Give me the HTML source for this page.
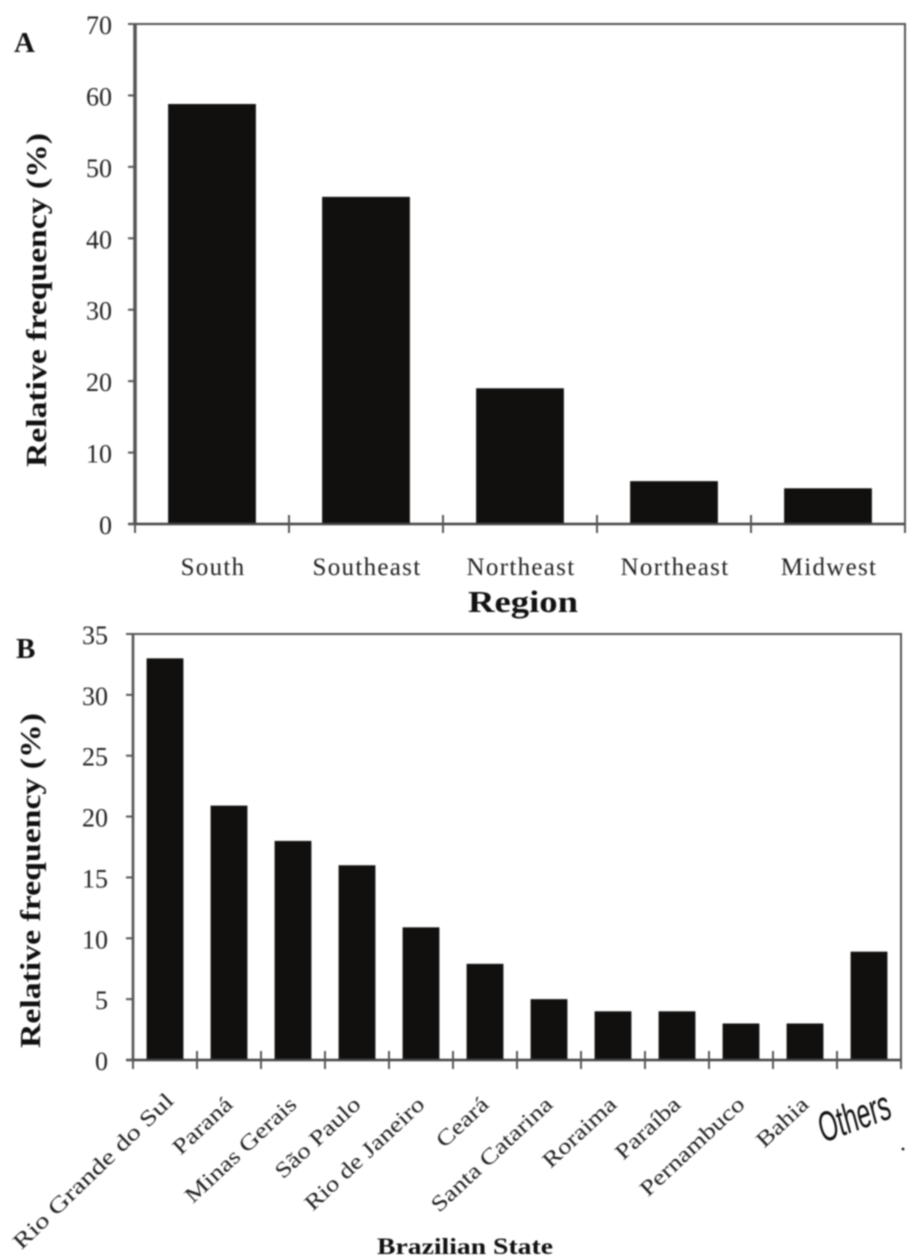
<!DOCTYPE html>
<html><head><meta charset="utf-8">
<style>
html,body{margin:0;padding:0;background:#fff;}
svg{display:block;filter:blur(0.8px);}
text{font-family:"Liberation Serif",serif;fill:#222;}
.b{font-weight:bold;fill:#111;}
</style></head>
<body>
<svg id="fig" xmlns="http://www.w3.org/2000/svg" width="924" height="1260" viewBox="0 0 924 1260"></svg>
<script>
const regionCategories = ['South','Southeast','Northeast','Northeast','Midwest'];
const regionValues = [58.8,45.8,19,6,5];
const regionTicks = [0,10,20,30,40,50,60,70];
const stateCategories = ['Rio Grande do Sul','Paraná','Minas Gerais','São Paulo','Rio de Janeiro','Ceará','Santa Catarina','Roraima','Paraíba','Pernambuco','Bahia','Others'];
const stateValues = [33,20.9,18,16,10.9,7.9,5,4,4,3,3,8.9];
const stateTicks = [0,5,10,15,20,25,30,35];

const svg = document.getElementById('fig');
const NS = 'http://www.w3.org/2000/svg';
function make(tag, attrs, parent, txt){
  const e = document.createElementNS(NS, tag);
  for (const k in attrs) e.setAttribute(k, attrs[k]);
  if (txt !== undefined) e.textContent = txt;
  (parent || svg).appendChild(e);
  return e;
}
function drawPanel(p){
  const g = make('g', {});
  
  
  const maxT = p.ticks[p.ticks.length-1];
  const yS = v => p.bottom - v/maxT*(p.bottom-p.top);
  const band = (p.right-p.left)/p.cats.length;
  const xS = i => p.left + band*i;
  // bars
  p.vals.forEach((v,i)=>{
    const w = band*p.barFrac;
    const bar = make('rect',{x:xS(i)+(band-w)/2,y:yS(v),width:w,height:p.bottom-yS(v),fill:'#11100e'},g);
    
    
  });
  // plot frame
  const frame = make('path',{d:`M${p.left} ${p.bottom}V${p.top}H${p.right}V${p.bottom}`,fill:'none',stroke:'#555',"stroke-width":2},g);
  
  
  const yAxis = make('line',{x1:p.left,x2:p.left,y1:p.top,y2:p.bottom,stroke:'#555',"stroke-width":p.leftW},g);
  
  
  const xAxis = make('line',{x1:p.left-7,x2:p.right,y1:p.bottom,y2:p.bottom,stroke:'#444',"stroke-width":2.4},g);
  
  
  const topExt = make('line',{x1:p.left-7,x2:p.left,y1:p.top,y2:p.top,stroke:'#555',"stroke-width":2},g);
  
  
  // y ticks
  p.ticks.forEach(t=>{
    const y = yS(t);
    const tk = make('line',{x1:p.left-7,x2:p.left,y1:y,y2:y,stroke:'#555',"stroke-width":2},g);
    
    
    const lb = make('text',{x:p.left-p.labGap,y:y+10,"text-anchor":'end',"font-size":26},g,String(t));
    
    
  });
  // x ticks
  for (let i=0;i<=p.cats.length;i++){
    const tk = make('line',{x1:xS(i),x2:xS(i),y1:p.bottom-9,y2:p.bottom+9,stroke:'#555',"stroke-width":2},g);
    
    
  }
  return {g,xS,band};
}

const a = drawPanel({name:'panel-a',cats:regionCategories,vals:regionValues,ticks:regionTicks,left:135,right:905,top:24,bottom:524,barFrac:0.57,leftW:3.5,labGap:23,labNudge:0});
regionCategories.forEach((c,i)=>{
  const t = make('text',{x:a.xS(i)+a.band/2+1,y:575,"text-anchor":'middle',"font-size":25,"letter-spacing":1.3},a.g,c);
  
  
});
const b = drawPanel({name:'panel-b',cats:stateCategories,vals:stateValues,ticks:stateTicks,left:133,right:901,top:634,bottom:1060,barFrac:0.575,leftW:2.6,labGap:25,labNudge:0});
stateCategories.forEach((c,i)=>{
  if (c === 'Others') return;
  const ax = b.xS(i)+b.band/2+5, ay = 1106;
  const tf = i===0
    ? `translate(${ax+5},${ay-4}) rotate(-44) scale(1.3,1)`
    : `translate(${ax},${ay}) rotate(-43) scale(1.22,1)`;
  const t = make('text',{transform:tf,"text-anchor":'end',"font-size":22,x:0,y:0},b.g,c);
  
  
});
</script>
<script>
const others = make('text',{transform:'translate(823,1143) rotate(-20) scale(0.8,1.35) skewX(-8)',"font-size":31,style:'font-family:"Liberation Sans",sans-serif;fill:#111'},svg,'Others');


const dot = make('circle',{cx:903,cy:1149,r:1.4,fill:'#111'});


const lA = make('text',{x:14,y:52,"font-size":29,class:'b'},svg,'A');


const lB = make('text',{x:16,y:658,"font-size":29,class:'b'},svg,'B');


const yA = make('text',{transform:'translate(46,467) rotate(-90)',"font-size":29,class:'b',textLength:334,lengthAdjust:'spacingAndGlyphs'},svg,'Relative  frequency (%)');


const yB = make('text',{transform:'translate(40,1048) rotate(-90)',"font-size":29,class:'b',textLength:335,lengthAdjust:'spacingAndGlyphs'},svg,'Relative frequency (%)');


const xA = make('text',{x:468,y:612,"font-size":31,class:'b',textLength:110,lengthAdjust:'spacingAndGlyphs'},svg,'Region');


const xB = make('text',{x:377,y:1254,"font-size":23,class:'b',textLength:176,lengthAdjust:'spacingAndGlyphs'},svg,'Brazilian State');


</script>
</body></html>
